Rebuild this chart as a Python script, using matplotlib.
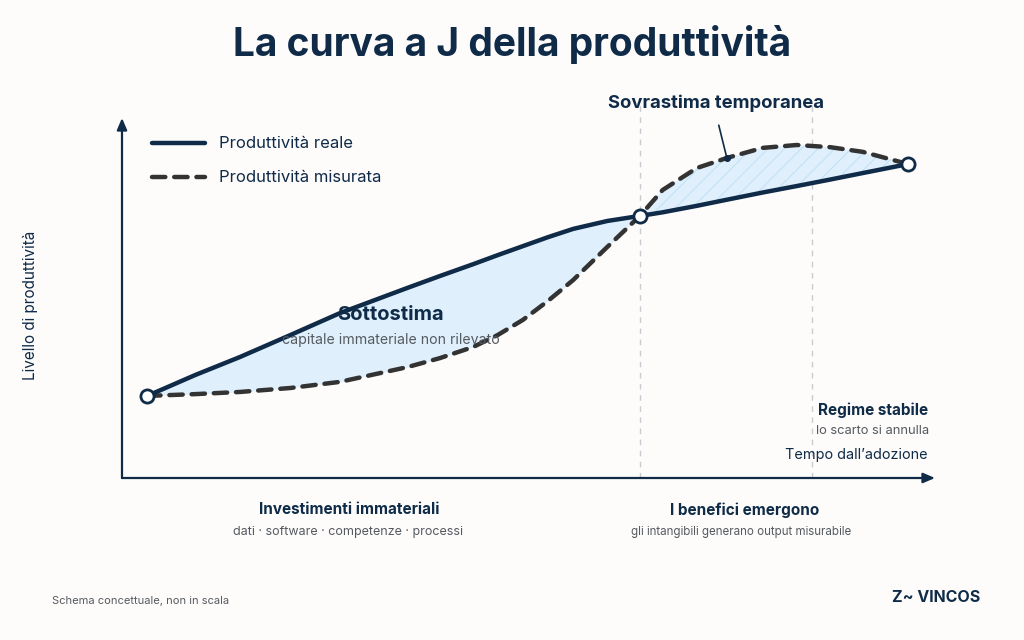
import matplotlib
matplotlib.use("Agg")
import matplotlib.pyplot as plt
import numpy as np

plt.rcParams['font.family'] = ['Inter', 'DejaVu Sans']
plt.rcParams['hatch.linewidth'] = 0.8

NAVY = "#0f2b48"
DASH = "#333333"
GREY = "#555a60"
FILL = "#dff0fc"
BG = "#fdfcfb"

# time since adoption (arbitrary units) and productivity level (arbitrary units)
time_pts = [3.1, 9.0, 14.5, 20.7, 26.8, 35.1, 39.1, 43.2, 46.2, 49.3, 52.4, 55.5, 59.7, 63.7,
            66.5, 70.7, 74.4, 78.8, 83.0, 87.1, 91.1, 96.7]
real = [22.8, 28.6, 33.6, 39.7, 45.8, 52.8, 56.1, 59.4, 61.9, 64.4, 66.9, 69.2, 71.4, 72.8,
        73.8, 75.6, 77.3, 79.3, 81.1, 82.9, 84.7, 87.2]
measured = [22.8, 23.3, 23.9, 25.0, 26.7, 30.8, 33.3, 36.4, 39.7, 43.9, 49.2, 55.0, 64.2, 72.8,
            80.0, 86.1, 88.9, 91.7, 92.5, 91.9, 90.6, 87.2]

key_x = [3.1, 63.7, 96.7]
key_y = [22.8, 72.8, 87.2]
phase_lines = [63.7, 84.9]
crossing = 63.7

series_labels = ["Produttività reale", "Produttività misurata"]

x = np.array(time_pts)
r = np.array(real)
m = np.array(measured)

fig = plt.figure(figsize=(10.24, 6.4), dpi=100, facecolor=BG)
ax = fig.add_axes([122 / 1024, 1 - 478 / 640, (935 - 122) / 1024, (478 - 118) / 640])
ax.set_facecolor(BG)
ax.set_xlim(0, 100)
ax.set_ylim(0, 100)
ax.axis("off")

# axes with arrows
for tip in [(0, 1), (1, 0)]:
    ax.annotate("", xy=tip, xytext=(0, 0), xycoords="axes fraction",
                arrowprops=dict(arrowstyle="-|>,head_length=0.7,head_width=0.3", color=NAVY,
                                lw=1.6, shrinkA=0, shrinkB=0))

for px in phase_lines:
    ax.plot([px, px], [0, 103.5], color="#c8cbd0", lw=1, ls=(0, (4, 4)), clip_on=False, zorder=1)

# gaps between the two curves
under = x <= crossing
over = x >= crossing
ax.fill_between(x[under], m[under], r[under], color=FILL, lw=0, zorder=2)
ax.fill_between(x[over], r[over], m[over], facecolor=FILL, edgecolor="#c4e1f5",
                hatch="//", lw=0, zorder=2)

ax.plot(x, r, color=NAVY, lw=3.2, solid_capstyle="round", solid_joinstyle="round", zorder=4,
        label=series_labels[0])
ax.plot(x, m, color=DASH, lw=3.2, ls=(0, (3, 2)), dash_capstyle="round",
        dash_joinstyle="round", zorder=3, label=series_labels[1])
ax.scatter(key_x, key_y, s=90, facecolor="white", edgecolor=NAVY, linewidth=2, zorder=5,
           clip_on=False)

# legend drawn by hand
for i, (lab, col, ls) in enumerate(zip(series_labels, [NAVY, DASH], ["-", (0, (3, 2))])):
    yy = 1 - (143 + 34 * i) / 640
    fig.add_artist(plt.Line2D([152 / 1024, 205 / 1024], [yy, yy], color=col, lw=3.2, ls=ls,
                              solid_capstyle="round", dash_capstyle="round"))
    fig.text(219 / 1024, yy, lab, color=NAVY, fontsize=12, va="center", ha="left")

# annotations
ax.annotate("", xy=(74.4, 88.9), xytext=(73.4, 98.0),
            arrowprops=dict(arrowstyle="-", color=NAVY, lw=1.2, shrinkA=0, shrinkB=0))
ax.plot([74.4], [88.9], "o", color=NAVY, ms=4, zorder=6)
fig.text(716 / 1024, 1 - 103 / 640, "Sovrastima temporanea", color=NAVY, fontsize=13.3,
         fontweight="bold", ha="center", va="center")

fig.text(390 / 1024, 1 - 315 / 640, "Sottostima", color=NAVY, fontsize=14.5,
         fontweight="bold", ha="center", va="center", zorder=10)
fig.text(391 / 1024, 1 - 340 / 640, "capitale immateriale non rilevato", color=GREY,
         fontsize=10.2, ha="center", va="center", zorder=10)

fig.text(928 / 1024, 1 - 410 / 640, "Regime stabile", color=NAVY, fontsize=11,
         fontweight="bold", ha="right", va="center")
fig.text(929 / 1024, 1 - 431 / 640, "lo scarto si annulla", color=GREY, fontsize=9.3,
         ha="right", va="center")
fig.text(928 / 1024, 1 - 455 / 640, "Tempo dall\u2019adozione", color=NAVY, fontsize=10.4,
         ha="right", va="center")

fig.text(30 / 1024, 1 - 305 / 640, "Livello di produttività", color=NAVY, fontsize=11,
         rotation=90, ha="center", va="center")

fig.text(349 / 1024, 1 - 510 / 640, "Investimenti immateriali", color=NAVY, fontsize=11,
         fontweight="bold", ha="center", va="center")
fig.text(348 / 1024, 1 - 532 / 640, "dati · software · competenze · processi", color=GREY,
         fontsize=9, ha="center", va="center")
fig.text(745 / 1024, 1 - 510 / 640, "I benefici emergono", color=NAVY, fontsize=11,
         fontweight="bold", ha="center", va="center")
fig.text(741 / 1024, 1 - 532 / 640, "gli intangibili generano output misurabile", color=GREY,
         fontsize=8.3, ha="center", va="center")

fig.text(512 / 1024, 1 - 45 / 640, "La curva a J della produttività", color=NAVY, fontsize=28,
         fontweight="bold", ha="center", va="center")

fig.text(52 / 1024, 1 - 601 / 640, "Schema concettuale, non in scala", color=GREY, fontsize=8,
         ha="left", va="center")
fig.text(980 / 1024, 1 - 598 / 640, "Z~ VINCOS", color=NAVY, fontsize=11.5, fontweight="bold",
         ha="right", va="center")

fig.savefig("out.png", dpi=100, facecolor=BG)
